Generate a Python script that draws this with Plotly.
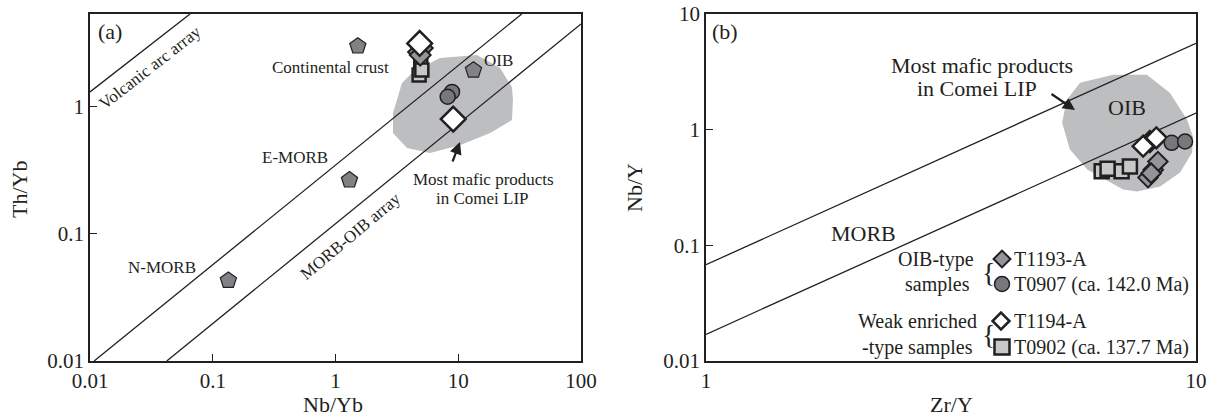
import plotly.graph_objects as go

W, H = 1213, 417
FONT = "Liberation Serif"
INK = "#231f20"

# ---------------- data: panel (a) Nb/Yb vs Th/Yb ----------------
ref_names = ["Continental crust", "OIB", "E-MORB", "N-MORB"]
ref_nbyb = [1.52, 13.3, 1.30, 0.134]
ref_thyb = [3.0, 1.94, 0.265, 0.043]

a_t1193_x = [4.75, 5.1, 4.9]
a_t1193_y = [2.7, 2.9, 2.55]
a_t1194_x = [4.85, 9.1]
a_t1194_y = [3.15, 0.80]
a_t0907_x = [8.9, 8.2]
a_t0907_y = [1.31, 1.20]
a_t0902_x = [4.95, 4.8, 5.05]
a_t0902_y = [2.13, 1.78, 1.95]

# Comei LIP field (panel a)
a_field_x = [2.94, 3.48, 4.28, 7.10, 14.2, 21.9, 27.4, 27.9, 27.4, 18.2, 10.3, 5.89, 3.82, 2.94, 2.94]
a_field_y = [0.892, 1.54, 1.88, 2.42, 2.55, 2.02, 1.43, 1.13, 0.786, 0.621, 0.499, 0.432, 0.473, 0.621, 0.892]

# reference lines (panel a)
arc_x = [0.01, 0.0653]
arc_y = [1.31, 5.37]
array_up_x = [0.0108, 32.9]
array_up_y = [0.01, 5.37]
array_lo_x = [0.0422, 100]
array_lo_y = [0.01, 4.48]

# ---------------- data: panel (b) Zr/Y vs Nb/Y ----------------
b_t1193_x = [8.18, 7.98, 8.36, 8.1]
b_t1193_y = [0.45, 0.385, 0.53, 0.42]
b_t1194_x = [8.05, 7.8, 8.3]
b_t1194_y = [0.79, 0.72, 0.85]
b_t0907_x = [8.92, 9.5]
b_t0907_y = [0.77, 0.79]
b_t0902_x = [6.42, 7.05, 7.33, 6.6]
b_t0902_y = [0.437, 0.437, 0.48, 0.46]

b_field_x = [5.33, 5.45, 5.80, 6.77, 7.94, 8.85, 9.59, 9.86, 9.82, 9.28, 8.45, 7.58, 7.10, 6.0, 5.53, 5.33]
b_field_y = [1.15, 1.81, 2.54, 2.98, 2.98, 2.08, 1.22, 0.87, 0.634, 0.426, 0.323, 0.292, 0.304, 0.452, 0.673, 1.15]

b_up_x = [1, 10]
b_up_y = [0.068, 5.59]
b_lo_x = [1, 10]
b_lo_y = [0.017, 1.39]

# tick labels
a_xticks = [0.01, 0.1, 1, 10, 100]
a_xtext = ["0.01", "0.1", "1", "10", "100"]
a_yticks = [0.01, 0.1, 1]
a_ytext = ["0.01", "0.1", "1"]
b_xticks = [1, 10]
b_xtext = ["1", "10"]
b_yticks = [0.01, 0.1, 1, 10]
b_ytext = ["0.01", "0.1", "1", "10"]

legend_labels = ["T1193-A", "T0907 (ca. 142.0 Ma)", "T1194-A", "T0902 (ca. 137.7 Ma)"]

# ---------------- styles ----------------
sty = {
    "T1193-A": dict(symbol="diamond", color="#939598", line=dict(color=INK, width=2)),
    "T0907": dict(symbol="circle", color="#77787b", line=dict(color=INK, width=1.5)),
    "T1194-A": dict(symbol="diamond", color="white", line=dict(color=INK, width=2.5)),
    "T0902": dict(symbol="square", color="#c7c8ca", line=dict(color=INK, width=2.5)),
}

fig = go.Figure()

def px(x):
    return x / W

def py(y):
    return 1 - y / H

# ---- panel a ----
fig.add_trace(go.Scatter(x=a_field_x, y=a_field_y, mode="lines", fill="toself",
                         fillcolor="#bcbec0", line=dict(width=0), hoverinfo="skip",
                         showlegend=False, xaxis="x", yaxis="y"))
for lx, ly in [(arc_x, arc_y), (array_up_x, array_up_y), (array_lo_x, array_lo_y)]:
    fig.add_trace(go.Scatter(x=lx, y=ly, mode="lines", line=dict(color=INK, width=1.3),
                             showlegend=False, xaxis="x", yaxis="y"))
fig.add_trace(go.Scatter(x=ref_nbyb, y=ref_thyb, mode="markers", text=ref_names,
                         marker=dict(symbol="pentagon", size=17, color="#808285",
                                     line=dict(color=INK, width=1.2)),
                         showlegend=False, xaxis="x", yaxis="y"))

def add_samples(xs, ys, key, size, xa, ya):
    s = sty[key]
    fig.add_trace(go.Scatter(x=xs, y=ys, mode="markers", name=key,
                             marker=dict(symbol=s["symbol"], size=size, color=s["color"], line=s["line"]),
                             showlegend=False, xaxis=xa, yaxis=ya))

add_samples(a_t0902_x, a_t0902_y, "T0902", 13, "x", "y")
add_samples(a_t0907_x, a_t0907_y, "T0907", 15, "x", "y")
add_samples(a_t1193_x, a_t1193_y, "T1193-A", 16, "x", "y")
add_samples(a_t1194_x, a_t1194_y, "T1194-A", 19, "x", "y")

# ---- panel b ----
fig.add_trace(go.Scatter(x=b_field_x, y=b_field_y, mode="lines", fill="toself",
                         fillcolor="#bcbec0", line=dict(width=0), hoverinfo="skip",
                         showlegend=False, xaxis="x2", yaxis="y2"))
for lx, ly in [(b_up_x, b_up_y), (b_lo_x, b_lo_y)]:
    fig.add_trace(go.Scatter(x=lx, y=ly, mode="lines", line=dict(color=INK, width=1.3),
                             showlegend=False, xaxis="x2", yaxis="y2"))
add_samples(b_t0902_x, b_t0902_y, "T0902", 14, "x2", "y2")
add_samples(b_t1194_x, b_t1194_y, "T1194-A", 16, "x2", "y2")
add_samples(b_t0907_x, b_t0907_y, "T0907", 15, "x2", "y2")
add_samples(b_t1193_x, b_t1193_y, "T1193-A", 15, "x2", "y2")

# ---- legend swatches on a pixel overlay axis ----
sw_keys = ["T1193-A", "T0907", "T1194-A", "T0902"]
sw_x = [1002, 1002, 1001, 1002]
sw_y = [259, 284, 321, 347]
sw_size = [13, 15, 13, 15]
for k, x0, y0, s0 in zip(sw_keys, sw_x, sw_y, sw_size):
    s = sty[k]
    fig.add_trace(go.Scatter(x=[x0], y=[y0], mode="markers",
                             marker=dict(symbol=s["symbol"], size=s0, color=s["color"], line=s["line"]),
                             showlegend=False, xaxis="x3", yaxis="y3"))

ax_common = dict(type="log", showline=True, linecolor=INK, linewidth=1.5, mirror=True,
                 ticks="inside", ticklen=7, tickwidth=1.3, tickcolor=INK, showgrid=False,
                 zeroline=False, tickfont=dict(family=FONT, size=21, color=INK), automargin=False)
ydom = [1 - 361 / H, 1 - 14 / H]
fig.update_layout(
    width=W, height=H, margin=dict(l=0, r=0, t=0, b=0),
    paper_bgcolor="white", plot_bgcolor="rgba(0,0,0,0)", showlegend=False,
    xaxis=dict(ax_common, domain=[90 / W, 581 / W], range=[-2, 2], tickvals=a_xticks, ticktext=a_xtext, anchor="y"),
    yaxis=dict(ax_common, domain=ydom, range=[-2, 0.73], tickvals=a_yticks, ticktext=a_ytext, anchor="x"),
    xaxis2=dict(ax_common, domain=[706 / W, 1196 / W], range=[0, 1], tickvals=b_xticks, ticktext=b_xtext, anchor="y2"),
    yaxis2=dict(ax_common, domain=ydom, range=[-2, 1], tickvals=b_yticks, ticktext=b_ytext, anchor="x2"),
    xaxis3=dict(domain=[0, 1], range=[0, W], visible=False, anchor="y3"),
    yaxis3=dict(domain=[0, 1], range=[H, 0], visible=False, anchor="x3"),
)

def txt(s, x, y, size, angle=0, xanchor="center"):
    fig.add_annotation(text=s, x=px(x), y=py(y), xref="paper", yref="paper", showarrow=False,
                       xanchor=xanchor, yanchor="middle", textangle=angle,
                       font=dict(family=FONT, size=size, color=INK))

def arrow(hx, hy, tx, ty):
    fig.add_annotation(text="", x=px(hx), y=py(hy), xref="paper", yref="paper", showarrow=True,
                       ax=tx - hx, ay=ty - hy, arrowhead=2, arrowsize=1.1, arrowwidth=2.2,
                       arrowcolor=INK)

# panel a texts
txt("(a)", 110, 32, 22)
txt("Volcanic arc array", 150, 67, 17, angle=-38)
txt("Continental crust", 330, 67, 17)
txt("OIB", 498, 61, 17)
txt("E-MORB", 295, 157, 17)
txt("N-MORB", 162, 267, 17)
txt("MORB-OIB array", 350, 236, 17, angle=-40)
txt("Most mafic products", 483, 179, 17)
txt("in Comei LIP", 482, 199, 17)
arrow(460, 142, 452, 163)
txt("Nb/Yb", 333, 404, 22)
txt("Th/Yb", 19, 190, 22, angle=-90)

# panel b texts
txt("(b)", 725, 32, 22)
txt("Most mafic products", 982, 65, 22)
txt("in Comei LIP", 977, 88, 22)
arrow(1075, 110, 1050, 93)
txt("OIB", 1127, 108, 22)
txt("MORB", 863, 233, 22)
txt("OIB-type", 936, 259, 20)
txt("samples", 937, 284, 20)
txt("Weak enriched", 917, 321, 20)
txt("-type samples", 917, 347, 20)
txt("{", 988, 272, 28)
txt("{", 988, 334, 28)
for lab, yy in zip(legend_labels, sw_y):
    txt(lab, 1012, yy, 20, xanchor="left")
txt("Zr/Y", 951, 404, 22)
txt("Nb/Y", 634, 188, 22, angle=-90)

fig.write_html("out.html")
